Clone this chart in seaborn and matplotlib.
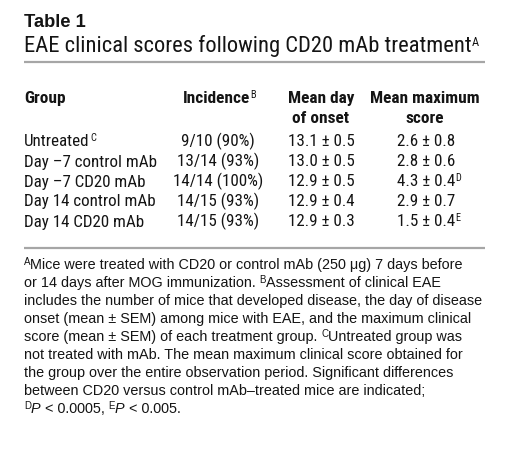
import matplotlib
matplotlib.use("Agg")
import matplotlib.pyplot as plt
import seaborn as sns

sns.set_theme(style="white")
NARROW = ["Roboto Condensed", "Archivo Narrow", "Liberation Sans", "DejaVu Sans"]
SANS = ["Liberation Sans", "DejaVu Sans"]
plt.rcParams["font.family"] = NARROW

# ---------------- data ----------------
table_label = "Table 1"
caption = "EAE clinical scores following CD20 mAb treatment"
caption_note = "A"
col_group = "Group"
col_incidence = "Incidence"
col_incidence_note = "B"
col_onset = ["Mean day", "of onset"]
col_score = ["Mean maximum", "score"]
groups = ["Untreated", "Day \u20137 control mAb", "Day \u20137 CD20 mAb",
          "Day 14 control mAb", "Day 14 CD20 mAb"]
group_notes = ["C", "", "", "", ""]
incidence = ["9/10 (90%)", "13/14 (93%)", "14/14 (100%)", "14/15 (93%)", "14/15 (93%)"]
onset = ["13.1 \u00b1 0.5", "13.0 \u00b1 0.5", "12.9 \u00b1 0.5", "12.9 \u00b1 0.4", "12.9 \u00b1 0.3"]
max_score = ["2.6 \u00b1 0.8", "2.8 \u00b1 0.6", "4.3 \u00b1 0.4", "2.9 \u00b1 0.7", "1.5 \u00b1 0.4"]
score_notes = ["", "", "D", "", "E"]
footnotes = [
    [("A", "sup"), ("Mice were treated with CD20 or control mAb (250 \u03bcg) 7 days before", "n")],
    [("or 14 days after MOG immunization. ", "n"), ("B", "sup"), ("Assessment of clinical EAE", "n")],
    [("includes the number of mice that developed disease, the day of disease", "n")],
    [("onset (mean \u00b1 SEM) among mice with EAE, and the maximum clinical", "n")],
    [("score (mean \u00b1 SEM) of each treatment group. ", "n"), ("C", "sup"), ("Untreated group was", "n")],
    [("not treated with mAb. The mean maximum clinical score obtained for", "n")],
    [("the group over the entire observation period. Significant differences", "n")],
    [("between CD20 versus control mAb\u2013treated mice are indicated;", "n")],
    [("D", "sup"), ("P", "it"), (" < 0.0005, ", "n"), ("E", "sup"), ("P", "it"), (" < 0.005.", "n")],
]

# ---------------- layout ----------------
W, H = 509, 455
fig = plt.figure(figsize=(W / 100, H / 100), dpi=100)
fig.patch.set_facecolor("white")
renderer = fig.canvas.get_renderer()
TXT = "#141414"


def fx(x):
    return x / W


def fy(y):
    return 1 - y / H


def put(x, y, s, size, family, weight="normal", style="normal", ha="left"):
    return fig.text(fx(x), fy(y), s, fontsize=size, family=family, weight=weight,
                    style=style, ha=ha, va="baseline", color=TXT)


def width_of(s, size, family, weight="normal", style="normal"):
    t1 = fig.text(0, 0, "|" + s + "|", fontsize=size, family=family, weight=weight, style=style)
    t2 = fig.text(0, 0, "||", fontsize=size, family=family, weight=weight, style=style)
    w = t1.get_window_extent(renderer).width - t2.get_window_extent(renderer).width
    t1.remove()
    t2.remove()
    return w


def fit(s, target, family, weight="normal"):
    return 10.0 * target / width_of(s, 10.0, family, weight=weight)


def runs(x, y, items, size, family, sup_size, raise_px):
    for s, kind in items:
        if kind == "sup":
            put(x, y - raise_px, s, sup_size, family)
            x += width_of(s, sup_size, family)
        elif kind == "it":
            put(x, y, s, size, family, style="italic")
            x += width_of(s, size, family, style="italic")
        else:
            put(x, y, s, size, family)
            x += width_of(s, size, family)


def note_after(x, y, s, size, family, note, sup_size, raise_px, weight="normal", ha="left"):
    put(x, y, s, size, family, weight=weight, ha=ha)
    if note:
        w = width_of(s, size, family, weight=weight)
        xe = x + w / 2 if ha == "center" else x + w
        put(xe + 0.5, y - raise_px, note, sup_size, family)


LEFT, RIGHT = 24, 485

# sizes fitted to the widths measured on the reference
S_LABEL = fit(table_label, 62, SANS, "bold")
S_CAP = fit(caption, 443, NARROW)
S_HEAD = fit(col_score[0], 109, NARROW, "bold")
S_BODY = fit(groups[1], 133, NARROW)
S_FOOT = fit(footnotes[2][0][0], 458, SANS)

# title
put(LEFT, 27, table_label, S_LABEL, SANS, weight="bold")
note_after(LEFT, 52, caption, S_CAP, NARROW, caption_note, S_CAP * 0.55, 6.5)

# rules
for yl in (62, 248):
    fig.add_artist(plt.Line2D([fx(LEFT), fx(RIGHT)], [fy(yl), fy(yl)],
                              color="#a6a6a6", lw=1.6, solid_capstyle="butt"))

# header
CX_INC, CX_ONS, CX_SCO = 218, 321, 426
put(LEFT, 103, col_group, S_HEAD, NARROW, weight="bold")
note_after(CX_INC - 2, 103, col_incidence, S_HEAD, NARROW, col_incidence_note,
           S_HEAD * 0.6, 5, weight="bold", ha="center")
put(CX_ONS, 103, col_onset[0], S_HEAD, NARROW, weight="bold", ha="center")
put(CX_ONS, 123, col_onset[1], S_HEAD, NARROW, weight="bold", ha="center")
put(CX_SCO - 1, 103, col_score[0], S_HEAD, NARROW, weight="bold", ha="center")
put(CX_SCO - 1, 123, col_score[1], S_HEAD, NARROW, weight="bold", ha="center")

# body
y0, dy = 146.5, 20
for i in range(len(groups)):
    y = y0 + i * dy
    note_after(LEFT, y, groups[i], S_BODY, NARROW, group_notes[i], S_BODY * 0.6, 5.5)
    put(CX_INC, y, incidence[i], S_BODY, NARROW, ha="center")
    put(CX_ONS, y, onset[i], S_BODY, NARROW, ha="center")
    note_after(CX_SCO, y, max_score[i], S_BODY, NARROW, score_notes[i], S_BODY * 0.6, 5.5, ha="center")

# footnotes
fy0, fdy = 269, 18
for j, line in enumerate(footnotes):
    runs(LEFT, fy0 + j * fdy, line, S_FOOT, SANS, S_FOOT * 0.68, 4)

fig.savefig("out.png", dpi=100, facecolor="white")
